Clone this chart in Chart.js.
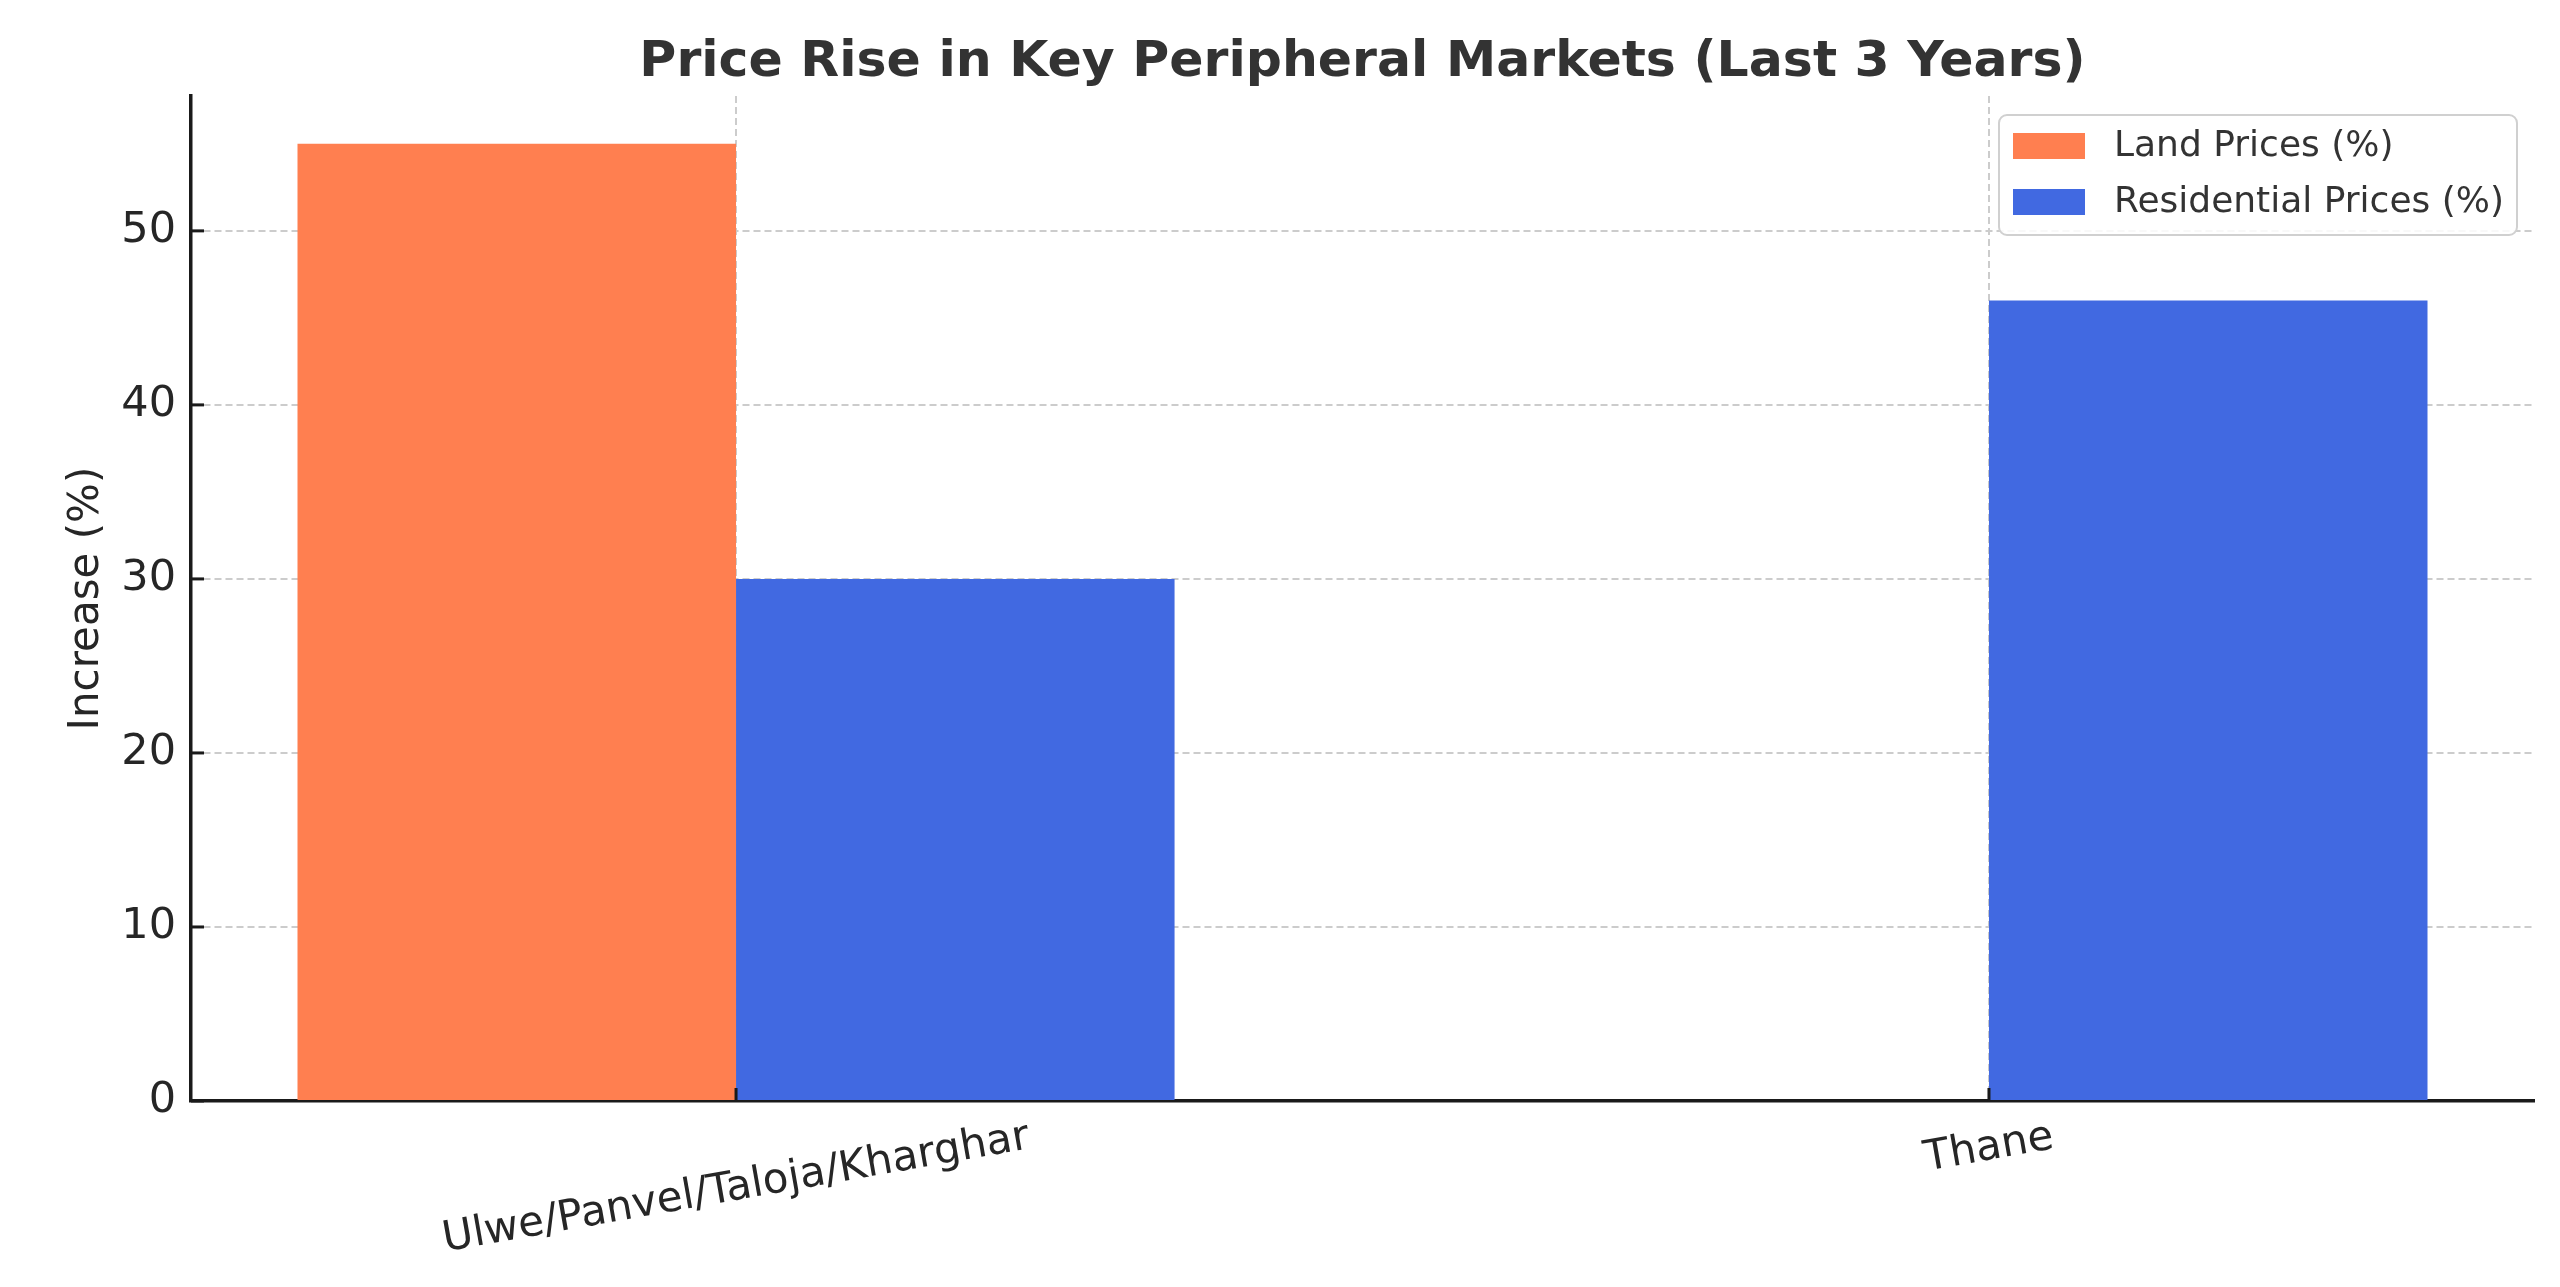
<!DOCTYPE html>
<html>
<head>
<meta charset="utf-8">
<title>Price Rise in Key Peripheral Markets</title>
<script src="https://cdn.jsdelivr.net/npm/chart.js@4.4.1/dist/chart.umd.min.js"></script>
<style>
body{margin:0;background:#fff;}
#wrap{width:2560px;height:1287px;position:relative;}
</style>
</head>
<body>
<div id="wrap"><canvas id="barChart"></canvas></div>
<script>

const categories=["Ulwe/Panvel/Taloja/Kharghar","Thane"];
const landPrices=[55,0];
const residentialPrices=[30,46];
const seriesLabels=["Land Prices (%)","Residential Prices (%)"];
const seriesColors=["#FF7F50","#4169E1"];
const yTicks=[0,10,20,30,40,50];
const chartTitle="Price Rise in Key Peripheral Markets (Last 3 Years)";
const yAxisTitle="Increase (%)";

const FONT="'DejaVu Sans', sans-serif";
const TEXT="#262626";


// title centred over the plot area, like matplotlib
const titlePlugin={
    id:"plotTitle",
    afterDraw(chart){
        const ctx=chart.ctx;
        const area=chart.chartArea;
        ctx.save();
        ctx.font="bold 50.5px "+FONT;
        ctx.fillStyle="#333333";
        ctx.textAlign="center";
        ctx.textBaseline="alphabetic";
        ctx.fillText(chartTitle,(area.left+area.right)/2,76);
        ctx.restore();
    }
};

// boxed legend in the upper right corner
const legendPlugin={
    id:"boxLegend",
    afterDraw(chart){
        const ctx=chart.ctx;
        const x=1999, y=115, w=518, h=120;
        ctx.save();
        ctx.beginPath();
        ctx.roundRect(x,y,w,h,8);
        ctx.fillStyle="rgba(255,255,255,0.85)";
        ctx.fill();
        ctx.lineWidth=2;
        ctx.strokeStyle="#d0d0d0";
        ctx.stroke();

        ctx.font="36px "+FONT;
        ctx.textAlign="left";
        ctx.textBaseline="middle";
        chart.data.datasets.forEach((ds,i)=>{
            const rowY=y+18+i*56;
            ctx.fillStyle=ds.backgroundColor;
            ctx.fillRect(x+14,rowY,72,26);
            ctx.fillStyle="#333333";
            ctx.fillText(ds.label,x+115,rowY+14);
        });
        ctx.restore();
    }
};

// inward tick marks and rotated category labels
const axisPlugin={
    id:"axisExtras",
    afterDraw(chart){
        const ctx=chart.ctx;
        const area=chart.chartArea;
        const xs=chart.scales.x;
        const ys=chart.scales.y;
        ctx.save();
        ctx.strokeStyle="#1a1a1a";
        ctx.lineWidth=3;
        ys.ticks.forEach(t=>{
            const py=ys.getPixelForValue(t.value);
            ctx.beginPath();
            ctx.moveTo(area.left,py);
            ctx.lineTo(area.left+13,py);
            ctx.stroke();
        });
        xs.ticks.forEach(t=>{
            const px=xs.getPixelForValue(t.value);
            ctx.beginPath();
            ctx.moveTo(px,area.bottom);
            ctx.lineTo(px,area.bottom-13);
            ctx.stroke();
        });

        const angle=10*Math.PI/180;
        const fontSize=42;
        ctx.font=fontSize+"px "+FONT;
        ctx.fillStyle=TEXT;
        ctx.textAlign="center";
        ctx.textBaseline="middle";
        categories.forEach((label,i)=>{
            const px=xs.getPixelForValue(i);
            const w=ctx.measureText(label).width;
            const boxH=w*Math.sin(angle)+fontSize*1.17*Math.cos(angle);
            const cy=area.bottom+12+boxH/2;
            ctx.save();
            ctx.translate(px,cy);
            ctx.rotate(-angle);
            ctx.fillText(label,0,0);
            ctx.restore();
        });
        ctx.restore();
    }
};


function createBarChart(){

   const canvas=document.getElementById("barChart");

   new Chart(canvas,{
    type:"bar",
    data:{
        datasets:[{
            label:seriesLabels[0],
            data:landPrices.map((v,i)=>({x:i,y:v})),
            backgroundColor:seriesColors[0]
        },{
            label:seriesLabels[1],
            data:residentialPrices.map((v,i)=>({x:i,y:v})),
            backgroundColor:seriesColors[1]
        }]
    },
    options:{
        responsive:true,
        maintainAspectRatio:false,
        animation:false,
        events:[],
        categoryPercentage:0.7,
        barPercentage:1.0,
        layout:{padding:{top:96,left:0,right:26,bottom:0}},
        plugins:{
            legend:{display:false},
            tooltip:{enabled:false},
            title:{display:false}
        },
        scales:{
            x:{
                type:"linear",
                min:-0.435,
                max:1.435,
                offset:false,
                z:1,
                afterBuildTicks(scale){
                    scale.ticks=categories.map((c,i)=>({value:i}));
                },
                afterFit(scale){
                    scale.height=186;
                },
                ticks:{display:false},
                grid:{
                    offset:false,
                    color:"#cccccc",
                    lineWidth:2,
                    drawTicks:false,
                    tickLength:0
                },
                border:{
                    display:true,
                    color:"#1a1a1a",
                    width:3.5,
                    dash:[7,4]
                }
            },
            y:{
                type:"linear",
                min:0,
                max:Math.max(...landPrices,...residentialPrices)*1.05,
                z:1,
                afterBuildTicks(scale){
                    scale.ticks=yTicks.map(v=>({value:v}));
                },
                afterFit(scale){
                    scale.width=191;
                },
                ticks:{
                    color:TEXT,
                    font:{family:FONT,size:43},
                    padding:15
                },
                grid:{
                    color:"#cccccc",
                    lineWidth:2,
                    drawTicks:false
                },
                border:{
                    display:true,
                    color:"#1a1a1a",
                    width:3.5,
                    dash:[7,4]
                },
                title:{
                    display:true,
                    text:yAxisTitle,
                    color:TEXT,
                    font:{family:FONT,size:42},
                    padding:{top:62,bottom:0}
                }
            }
        }
    },
    plugins:[titlePlugin,legendPlugin,axisPlugin]
   });

}

createBarChart();

</script>
</body>
</html>
